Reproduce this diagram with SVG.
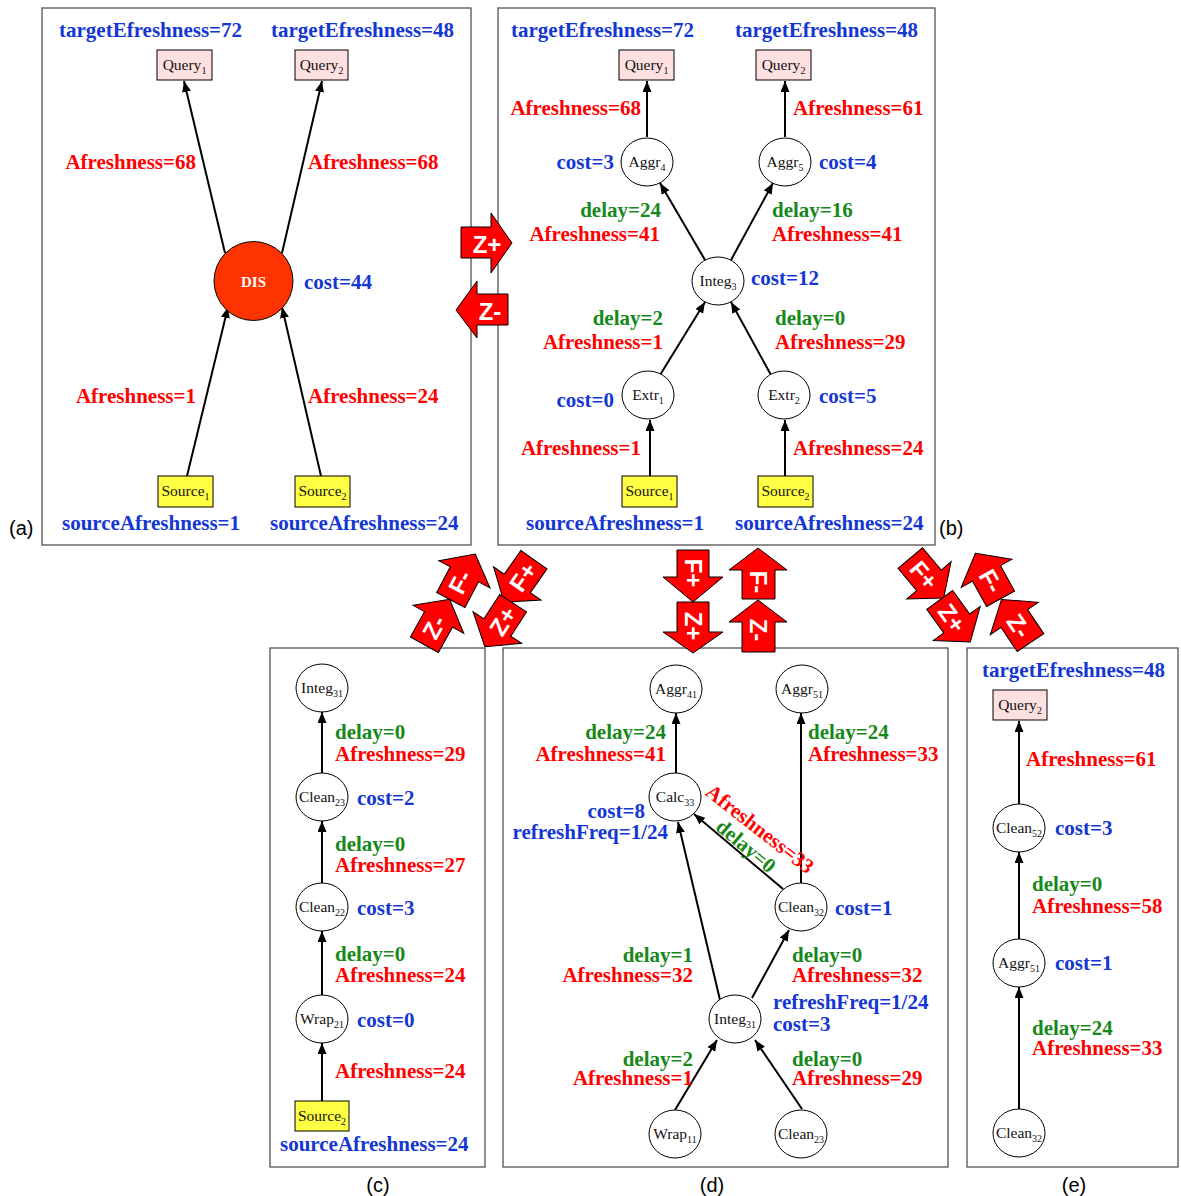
<svg xmlns="http://www.w3.org/2000/svg" width="1181" height="1196" viewBox="0 0 1181 1196">
<style>
.t{font-family:"Liberation Serif","Times New Roman",serif;font-weight:bold;font-size:21px}
.e{text-anchor:end}
.r{fill:#ff0000}.b{fill:#1437d4}.g{fill:#17891a}
.n{font-family:"Liberation Serif","Times New Roman",serif;font-size:15.5px;fill:#111;text-anchor:middle}
.sub{font-size:10px}
.node ellipse{fill:#fff;stroke:#000;stroke-width:1}
.q{fill:#ffe0e0;stroke:#000;stroke-width:1}
.s{fill:#ffff44;stroke:#000;stroke-width:1}
.panel{fill:#fff;stroke:#444;stroke-width:1.2}
.cap{font-family:"Liberation Sans",Arial,sans-serif;font-size:20px;fill:#000}
.edges line{stroke:#000;stroke-width:2;marker-end:url(#ah)}
.big path,.big use{fill:#ff0000;stroke:#000;stroke-width:1}
.big text{font-family:"Liberation Sans",Arial,sans-serif;font-weight:bold;fill:#fff;font-size:24px;text-anchor:middle;dominant-baseline:central}
</style>
<defs>
<marker id="ah" markerUnits="userSpaceOnUse" markerWidth="12" markerHeight="10" refX="11" refY="4.5" orient="auto">
<path d="M0,0 L11,4.5 L0,9 Z" fill="#000"/>
</marker>
<path id="ua" d="M0,-26 L29,-3 H16 V26 H-16 V-3 H-29 Z"/>
</defs>
<rect width="1181" height="1196" fill="#fff"/>

<!-- panels -->
<rect class="panel" x="42" y="8" width="429" height="537"/>
<rect class="panel" x="498" y="8" width="437" height="537"/>
<rect class="panel" x="270" y="648" width="215" height="519"/>
<rect class="panel" x="503" y="648" width="445" height="519"/>
<rect class="panel" x="967" y="648" width="211" height="519"/>
<text class="cap" x="9" y="535">(a)</text>
<text class="cap" x="939" y="535">(b)</text>
<text class="cap" x="378" y="1192" text-anchor="middle">(c)</text>
<text class="cap" x="712" y="1192" text-anchor="middle">(d)</text>
<text class="cap" x="1074" y="1192" text-anchor="middle">(e)</text>

<!-- connectors -->
<g class="edges">
<!-- (a) -->
<line x1="225" y1="253" x2="184" y2="81"/>
<line x1="282" y1="253" x2="322" y2="81"/>
<line x1="187" y1="476" x2="228" y2="307"/>
<line x1="321" y1="476" x2="282" y2="307"/>
<!-- (b) -->
<line x1="647" y1="137" x2="647" y2="81"/>
<line x1="785" y1="137" x2="785" y2="81"/>
<line x1="705" y1="260" x2="660" y2="183"/>
<line x1="731" y1="260" x2="773" y2="183"/>
<line x1="660" y1="375" x2="705" y2="302"/>
<line x1="771" y1="375" x2="731" y2="302"/>
<line x1="650" y1="476" x2="650" y2="420"/>
<line x1="785" y1="476" x2="785" y2="420"/>
<!-- (c) -->
<line x1="322" y1="773" x2="322" y2="712"/>
<line x1="322" y1="883" x2="322" y2="821"/>
<line x1="322" y1="995" x2="322" y2="931"/>
<line x1="322" y1="1101" x2="322" y2="1043"/>
<!-- (d) -->
<line x1="676" y1="773" x2="676" y2="713"/>
<line x1="801" y1="883" x2="801" y2="713"/>
<line x1="783" y1="889" x2="694" y2="814"/>
<line x1="720" y1="1000" x2="678" y2="822"/>
<line x1="752" y1="998" x2="789" y2="930"/>
<line x1="675" y1="1110" x2="717" y2="1040"/>
<line x1="802" y1="1109" x2="755" y2="1040"/>
<!-- (e) -->
<line x1="1019" y1="804" x2="1019" y2="721"/>
<line x1="1019" y1="939" x2="1019" y2="852"/>
<line x1="1019" y1="1109" x2="1019" y2="987"/>
</g>

<!-- (a) nodes -->
<g id="a-query1"><rect class="q" x="157" y="50" width="55" height="30"/><text class="n" x="184.5" y="70">Query<tspan class="sub" dy="4">1</tspan></text></g>
<g id="a-query2"><rect class="q" x="295" y="50" width="53" height="30"/><text class="n" x="321.5" y="70">Query<tspan class="sub" dy="4">2</tspan></text></g>
<g id="a-dis"><circle cx="253.5" cy="281" r="39.5" fill="#ff3300" stroke="#000" stroke-width="1"/><text x="253.5" y="287" text-anchor="middle" font-family="Liberation Serif,serif" font-weight="bold" font-size="15" fill="#fff">DIS</text></g>
<g id="a-source1"><rect class="s" x="158" y="476" width="55" height="31"/><text class="n" x="185.5" y="496">Source<tspan class="sub" dy="4">1</tspan></text></g>
<g id="a-source2"><rect class="s" x="295" y="476" width="55" height="31"/><text class="n" x="322.5" y="496">Source<tspan class="sub" dy="4">2</tspan></text></g>
<g id="a-labels">
<text class="t b" x="59" y="37">targetEfreshness=72</text>
<text class="t b" x="271" y="37">targetEfreshness=48</text>
<text class="t r e" x="196" y="169">Afreshness=68</text>
<text class="t r" x="308" y="169">Afreshness=68</text>
<text class="t b" x="304" y="289">cost=44</text>
<text class="t r e" x="196" y="403">Afreshness=1</text>
<text class="t r" x="308" y="403">Afreshness=24</text>
<text class="t b" x="62" y="530">sourceAfreshness=1</text>
<text class="t b" x="270" y="530">sourceAfreshness=24</text>
</g>

<!-- (b) nodes -->
<g id="b-query1"><rect class="q" x="619" y="50" width="55" height="30"/><text class="n" x="646.5" y="70">Query<tspan class="sub" dy="4">1</tspan></text></g>
<g id="b-query2"><rect class="q" x="756" y="50" width="55" height="30"/><text class="n" x="783.5" y="70">Query<tspan class="sub" dy="4">2</tspan></text></g>
<g id="b-aggr4" class="node"><ellipse cx="647" cy="162" rx="26" ry="24"/><text class="n" x="647" y="167">Aggr<tspan class="sub" dy="4">4</tspan></text></g>
<g id="b-aggr5" class="node"><ellipse cx="785" cy="162" rx="26" ry="24"/><text class="n" x="785" y="167">Aggr<tspan class="sub" dy="4">5</tspan></text></g>
<g id="b-integ3" class="node"><ellipse cx="718" cy="281" rx="26" ry="24"/><text class="n" x="718" y="286">Integ<tspan class="sub" dy="4">3</tspan></text></g>
<g id="b-extr1" class="node"><ellipse cx="648" cy="395" rx="26" ry="24"/><text class="n" x="648" y="400">Extr<tspan class="sub" dy="4">1</tspan></text></g>
<g id="b-extr2" class="node"><ellipse cx="784" cy="395" rx="26" ry="24"/><text class="n" x="784" y="400">Extr<tspan class="sub" dy="4">2</tspan></text></g>
<g id="b-source1"><rect class="s" x="622" y="476" width="55" height="31"/><text class="n" x="649.5" y="496">Source<tspan class="sub" dy="4">1</tspan></text></g>
<g id="b-source2"><rect class="s" x="758" y="476" width="55" height="31"/><text class="n" x="785.5" y="496">Source<tspan class="sub" dy="4">2</tspan></text></g>
<g id="b-labels">
<text class="t b" x="511" y="37">targetEfreshness=72</text>
<text class="t b" x="735" y="37">targetEfreshness=48</text>
<text class="t r e" x="641" y="115">Afreshness=68</text>
<text class="t r" x="793" y="115">Afreshness=61</text>
<text class="t b e" x="614" y="169">cost=3</text>
<text class="t b" x="819" y="169">cost=4</text>
<text class="t g e" x="661" y="217">delay=24</text>
<text class="t r e" x="660" y="241">Afreshness=41</text>
<text class="t g" x="772" y="217">delay=16</text>
<text class="t r" x="772" y="241">Afreshness=41</text>
<text class="t b" x="751" y="285">cost=12</text>
<text class="t g e" x="663" y="325">delay=2</text>
<text class="t r e" x="663" y="349">Afreshness=1</text>
<text class="t g" x="775" y="325">delay=0</text>
<text class="t r" x="775" y="349">Afreshness=29</text>
<text class="t b e" x="614" y="407">cost=0</text>
<text class="t b" x="819" y="403">cost=5</text>
<text class="t r e" x="641" y="455">Afreshness=1</text>
<text class="t r" x="793" y="455">Afreshness=24</text>
<text class="t b" x="526" y="530">sourceAfreshness=1</text>
<text class="t b" x="735" y="530">sourceAfreshness=24</text>
</g>

<!-- (c) nodes -->
<g id="c-integ31" class="node"><ellipse cx="322" cy="688" rx="26" ry="24"/><text class="n" x="322" y="693">Integ<tspan class="sub" dy="4">31</tspan></text></g>
<g id="c-clean23" class="node"><ellipse cx="322" cy="797" rx="26" ry="24"/><text class="n" x="322" y="802">Clean<tspan class="sub" dy="4">23</tspan></text></g>
<g id="c-clean22" class="node"><ellipse cx="322" cy="907" rx="26" ry="24"/><text class="n" x="322" y="912">Clean<tspan class="sub" dy="4">22</tspan></text></g>
<g id="c-wrap21" class="node"><ellipse cx="322" cy="1019" rx="26" ry="24"/><text class="n" x="322" y="1024">Wrap<tspan class="sub" dy="4">21</tspan></text></g>
<g id="c-source2"><rect class="s" x="295" y="1101" width="54" height="30"/><text class="n" x="322" y="1121">Source<tspan class="sub" dy="4">2</tspan></text></g>
<g id="c-labels">
<text class="t g" x="335" y="739">delay=0</text>
<text class="t r" x="335" y="761">Afreshness=29</text>
<text class="t b" x="357" y="805">cost=2</text>
<text class="t g" x="335" y="851">delay=0</text>
<text class="t r" x="335" y="872">Afreshness=27</text>
<text class="t b" x="357" y="915">cost=3</text>
<text class="t g" x="335" y="961">delay=0</text>
<text class="t r" x="335" y="982">Afreshness=24</text>
<text class="t b" x="357" y="1027">cost=0</text>
<text class="t r" x="335" y="1078">Afreshness=24</text>
<text class="t b" x="280" y="1151">sourceAfreshness=24</text>
</g>

<!-- (d) nodes -->
<g id="d-aggr41" class="node"><ellipse cx="676" cy="689" rx="26" ry="24"/><text class="n" x="676" y="694">Aggr<tspan class="sub" dy="4">41</tspan></text></g>
<g id="d-aggr51" class="node"><ellipse cx="802" cy="689" rx="26" ry="24"/><text class="n" x="802" y="694">Aggr<tspan class="sub" dy="4">51</tspan></text></g>
<g id="d-calc33" class="node"><ellipse cx="675" cy="797" rx="26" ry="24"/><text class="n" x="675" y="802">Calc<tspan class="sub" dy="4">33</tspan></text></g>
<g id="d-clean32" class="node"><ellipse cx="801" cy="907" rx="26" ry="24"/><text class="n" x="801" y="912">Clean<tspan class="sub" dy="4">32</tspan></text></g>
<g id="d-integ31" class="node"><ellipse cx="735" cy="1019" rx="26" ry="24"/><text class="n" x="735" y="1024">Integ<tspan class="sub" dy="4">31</tspan></text></g>
<g id="d-wrap11" class="node"><ellipse cx="675" cy="1134" rx="26" ry="24"/><text class="n" x="675" y="1139">Wrap<tspan class="sub" dy="4">11</tspan></text></g>
<g id="d-clean23" class="node"><ellipse cx="801" cy="1134" rx="26" ry="24"/><text class="n" x="801" y="1139">Clean<tspan class="sub" dy="4">23</tspan></text></g>
<g id="d-labels">
<text class="t g e" x="666" y="739">delay=24</text>
<text class="t r e" x="666" y="761">Afreshness=41</text>
<text class="t g" x="808" y="739">delay=24</text>
<text class="t r" x="808" y="761">Afreshness=33</text>
<text class="t b e" x="645" y="818">cost=8</text>
<text class="t b e" x="668" y="839">refreshFreq=1/24</text>
<text class="t r" text-anchor="middle" transform="translate(760,829) rotate(38)" y="7">Afreshness=33</text>
<text class="t g" text-anchor="middle" transform="translate(746,846) rotate(40)" y="7">delay=0</text>
<text class="t b" x="835" y="915">cost=1</text>
<text class="t g e" x="693" y="962">delay=1</text>
<text class="t r e" x="693" y="982">Afreshness=32</text>
<text class="t g" x="792" y="962">delay=0</text>
<text class="t r" x="792" y="982">Afreshness=32</text>
<text class="t b" x="773" y="1009">refreshFreq=1/24</text>
<text class="t b" x="773" y="1031">cost=3</text>
<text class="t g e" x="693" y="1066">delay=2</text>
<text class="t r e" x="693" y="1085">Afreshness=1</text>
<text class="t g" x="792" y="1066">delay=0</text>
<text class="t r" x="792" y="1085">Afreshness=29</text>
</g>

<!-- (e) nodes -->
<g id="e-query2"><rect class="q" x="993" y="690" width="54" height="30"/><text class="n" x="1020" y="710">Query<tspan class="sub" dy="4">2</tspan></text></g>
<g id="e-clean52" class="node"><ellipse cx="1019" cy="828" rx="26" ry="24"/><text class="n" x="1019" y="833">Clean<tspan class="sub" dy="4">52</tspan></text></g>
<g id="e-aggr51" class="node"><ellipse cx="1019" cy="963" rx="26" ry="24"/><text class="n" x="1019" y="968">Aggr<tspan class="sub" dy="4">51</tspan></text></g>
<g id="e-clean32" class="node"><ellipse cx="1019" cy="1133" rx="26" ry="24"/><text class="n" x="1019" y="1138">Clean<tspan class="sub" dy="4">32</tspan></text></g>
<g id="e-labels">
<text class="t b" x="982" y="677">targetEfreshness=48</text>
<text class="t r" x="1026" y="766">Afreshness=61</text>
<text class="t b" x="1055" y="835">cost=3</text>
<text class="t g" x="1032" y="891">delay=0</text>
<text class="t r" x="1032" y="913">Afreshness=58</text>
<text class="t b" x="1055" y="970">cost=1</text>
<text class="t g" x="1032" y="1035">delay=24</text>
<text class="t r" x="1032" y="1055">Afreshness=33</text>
</g>

<!-- transformation arrows -->
<g class="big" id="ops-ab">
<path d="M461,227 H491 V213 L512,243 L491,273 V258 H461 Z"/>
<text x="487" y="244" font-size="28">Z+</text>
<path d="M508,294 H477 V281 L456,310 L477,338 V325 H508 Z"/>
<text x="490" y="311" font-size="28">Z-</text>
</g>
<g class="big" id="ops-bd">
<path d="M677,550 H709 V577 H723 L693,602 L663,577 H677 Z"/>
<text transform="translate(693,573) rotate(90)">F+</text>
<path d="M677,602 H709 V632 H723 L693,653 L663,632 H677 Z"/>
<text transform="translate(693,626) rotate(90)">Z+</text>
<path d="M758,548 L787,570 H775 V599 H742 V570 H729 Z"/>
<text transform="translate(758,582) rotate(90)">F-</text>
<path d="M758,600 L787,622 H775 V652 H742 V622 H729 Z"/>
<text transform="translate(758,630) rotate(90)">Z-</text>
</g>
<g class="big" id="ops-bc">
<use href="#ua" transform="translate(463,577) rotate(28)"/>
<text transform="translate(460,582) rotate(-62)">F-</text>
<use href="#ua" transform="translate(519,581) rotate(215)"/>
<text transform="translate(523,577) rotate(-55)">F+</text>
<use href="#ua" transform="translate(437,622) rotate(29)"/>
<text transform="translate(434,627) rotate(-61)">Z-</text>
<use href="#ua" transform="translate(499,625) rotate(213)"/>
<text transform="translate(503,621) rotate(-57)">Z+</text>
</g>
<g class="big" id="ops-be">
<use href="#ua" transform="translate(927,578) rotate(140)"/>
<text transform="translate(924,575) rotate(50)">F+</text>
<use href="#ua" transform="translate(988,576) rotate(-29)"/>
<text transform="translate(991,581) rotate(61)">F-</text>
<use href="#ua" transform="translate(955,621) rotate(144)"/>
<text transform="translate(952,618) rotate(54)">Z+</text>
<use href="#ua" transform="translate(1016,621) rotate(-34)"/>
<text transform="translate(1019,626) rotate(56)">Z-</text>
</g>
</svg>
